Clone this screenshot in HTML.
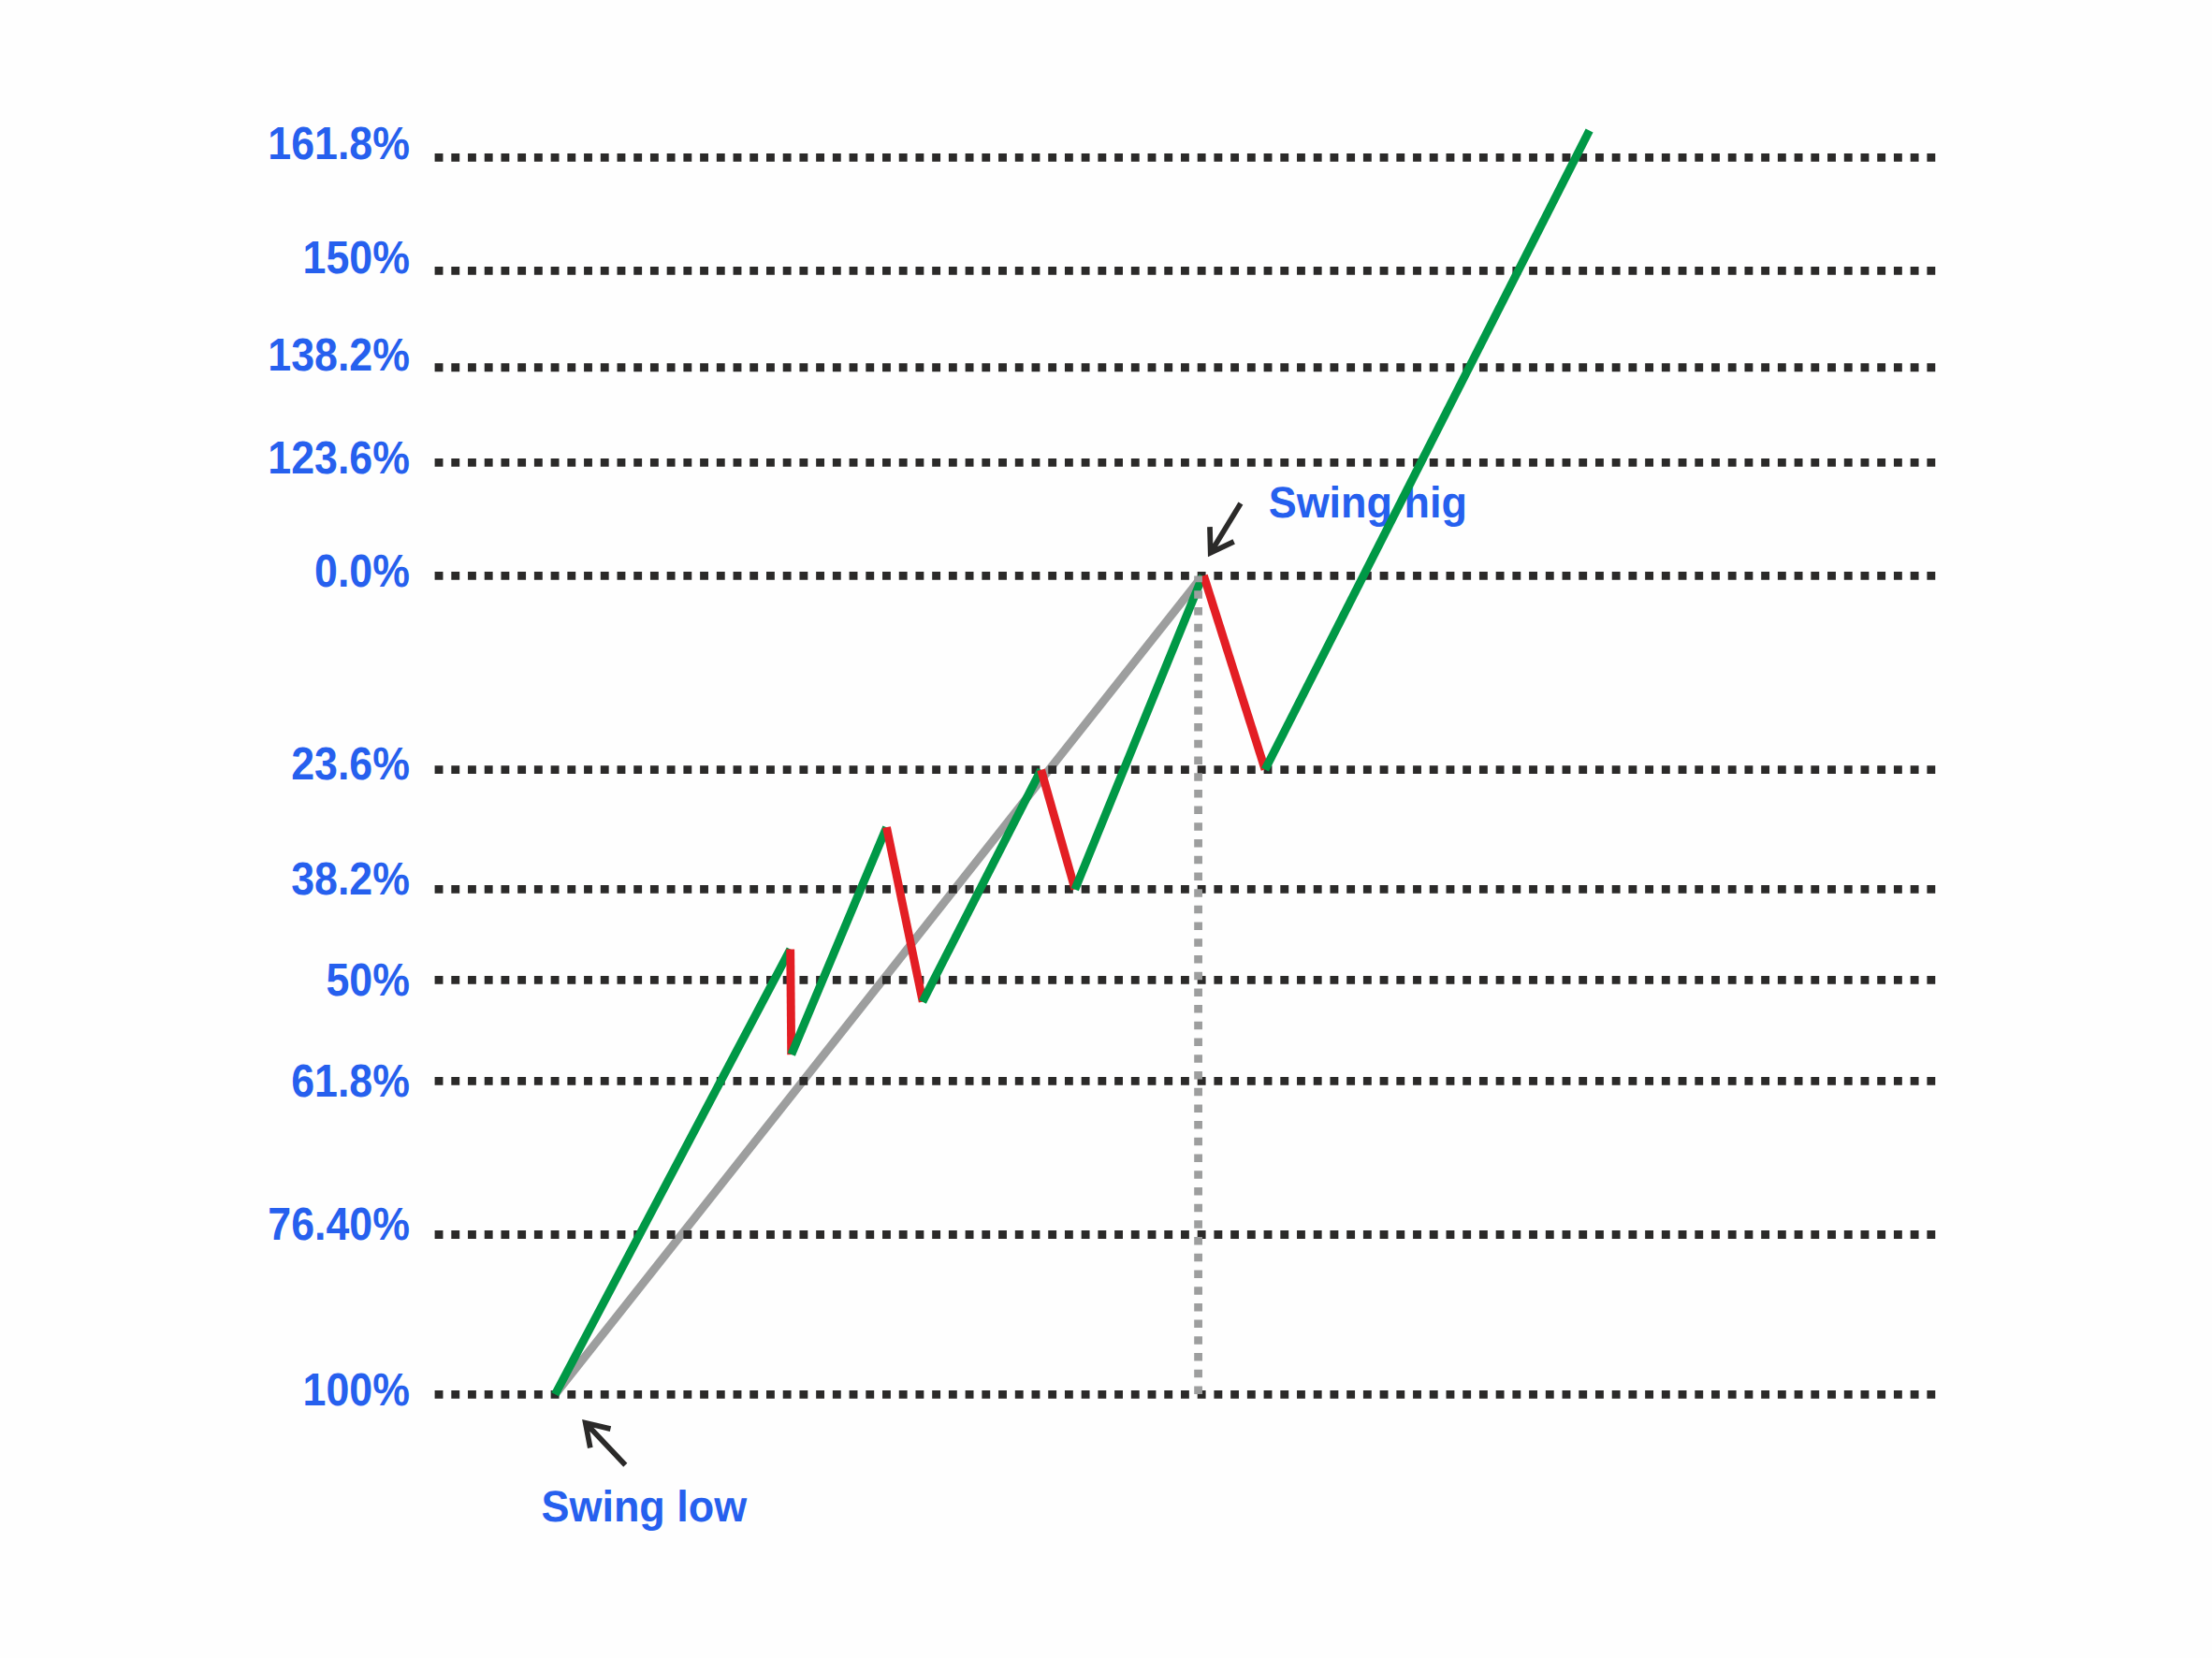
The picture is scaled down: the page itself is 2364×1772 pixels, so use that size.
<!DOCTYPE html>
<html lang="en">
<head>
<meta charset="utf-8">
<title>Fibonacci retracement and extension levels</title>
<style>
html,body{margin:0;padding:0;background:#fefefe;}
body{width:2364px;height:1772px;overflow:hidden;}
svg{display:block;}
text{font-family:"Liberation Sans",sans-serif;font-weight:700;fill:#2660ee;text-rendering:geometricPrecision;}
.lvl{font-size:49.3px;letter-spacing:0px;text-anchor:end;}
.note{font-size:46.8px;}
.dots{stroke:#2b2a29;stroke-width:8.86;stroke-dasharray:8.86 8.86;fill:none;}
.arrow{stroke:#2b2a29;stroke-width:5.7;fill:none;stroke-linejoin:miter;stroke-linecap:butt;stroke-miterlimit:10;}
</style>
</head>
<body>
<svg width="2364" height="1772" viewBox="0 0 2364 1772">
<rect x="0" y="0" width="2364" height="1772" fill="#fefefe"/>

<line x1="593.3" y1="1490.2" x2="1285.0" y2="615.6" stroke="#9d9e9e" stroke-width="8.86"/>
<g class="dots">
<line x1="464.6" y1="168.4" x2="2068.3" y2="168.4"/>
<line x1="464.6" y1="289.35" x2="2068.3" y2="289.35"/>
<line x1="464.6" y1="392.8" x2="2068.3" y2="392.8"/>
<line x1="464.6" y1="494.37" x2="2068.3" y2="494.37"/>
<line x1="464.6" y1="615.43" x2="2068.3" y2="615.43"/>
<line x1="464.6" y1="822.65" x2="2068.3" y2="822.65"/>
<line x1="464.6" y1="950.33" x2="2068.3" y2="950.33"/>
<line x1="464.6" y1="1047.43" x2="2068.3" y2="1047.43"/>
<line x1="464.6" y1="1155.43" x2="2068.3" y2="1155.43"/>
<line x1="464.6" y1="1319.5" x2="2068.3" y2="1319.5"/>
<line x1="464.6" y1="1490.4" x2="2068.3" y2="1490.4"/>
</g>
<g>
<text class="lvl" transform="translate(437.85 170.2) scale(0.906 1)" x="0" y="0">161.8%</text>
<text class="lvl" transform="translate(437.85 291.6) scale(0.906 1)" x="0" y="0">150%</text>
<text class="lvl" transform="translate(437.85 396.3) scale(0.906 1)" x="0" y="0">138.2%</text>
<text class="lvl" transform="translate(437.85 505.8) scale(0.906 1)" x="0" y="0">123.6%</text>
<text class="lvl" transform="translate(437.85 627.2) scale(0.906 1)" x="0" y="0">0.0%</text>
<text class="lvl" transform="translate(437.85 832.9) scale(0.906 1)" x="0" y="0">23.6%</text>
<text class="lvl" transform="translate(437.85 956.0) scale(0.906 1)" x="0" y="0">38.2%</text>
<text class="lvl" transform="translate(437.85 1064.2) scale(0.906 1)" x="0" y="0">50%</text>
<text class="lvl" transform="translate(437.85 1172.0) scale(0.906 1)" x="0" y="0">61.8%</text>
<text class="lvl" transform="translate(437.85 1325.0) scale(0.906 1)" x="0" y="0">76.40%</text>
<text class="lvl" transform="translate(437.85 1501.9) scale(0.906 1)" x="0" y="0">100%</text>
</g>
<text class="note" transform="translate(1355.7 552.9) scale(0.96 1)">Swing hig</text>
<line x1="593.3" y1="1490.2" x2="844.7" y2="1014.5" stroke="#009846" stroke-width="8.86"/>
<line x1="844.7" y1="1014.5" x2="845.7" y2="1127.1" stroke="#e31e24" stroke-width="8.86"/>
<line x1="845.8" y1="1127.0" x2="947.5" y2="884.2" stroke="#009846" stroke-width="8.86"/>
<line x1="947.5" y1="884.2" x2="986.2" y2="1070.6" stroke="#e31e24" stroke-width="8.86"/>
<line x1="985.9" y1="1070.7" x2="1112.6" y2="822.7" stroke="#009846" stroke-width="8.86"/>
<line x1="1112.6" y1="822.7" x2="1148.9" y2="950.4" stroke="#e31e24" stroke-width="8.86"/>
<line x1="1148.8" y1="950.6" x2="1285.5" y2="615.3" stroke="#009846" stroke-width="8.86"/>
<line x1="1286.4" y1="615.1" x2="1352.0" y2="822.4" stroke="#e31e24" stroke-width="8.86"/>
<line x1="1352.0" y1="822.5" x2="1698.6" y2="139.45" stroke="#009846" stroke-width="8.86"/>
<line x1="1280.6" y1="1489.95" x2="1280.6" y2="615.43" stroke="#9d9e9e" stroke-width="8.75" stroke-dasharray="8.5 9.21"/>
<path class="arrow" d="M668.3 1565.83 L625.71 1520.68 M652.46 1527.12 L625.71 1520.68 L630.8 1547.4"/>
<path class="arrow" d="M1325.94 537.94 L1293.71 590.72 M1292.97 563.13 L1293.71 590.72 L1318.68 578.92"/>
<text class="note" transform="translate(578.5 1625.9) scale(0.96 1)">Swing low</text>
</svg>
</body>
</html>
